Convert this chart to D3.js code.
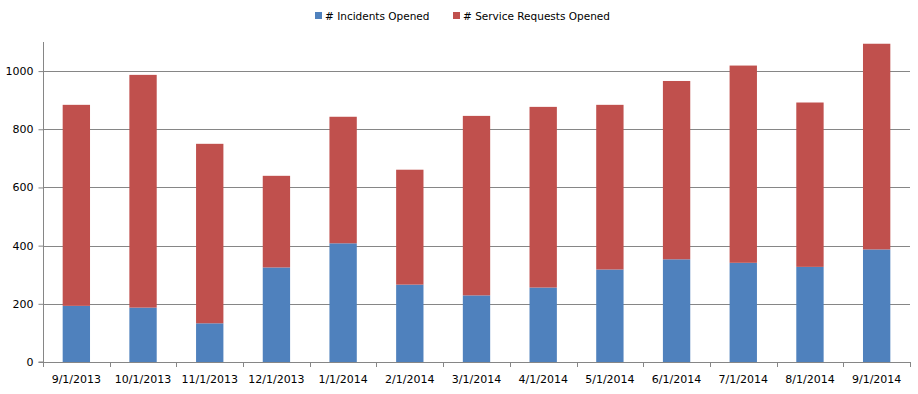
<!DOCTYPE html>
<html>
<head>
<meta charset="utf-8">
<script src="https://cdn.jsdelivr.net/npm/d3@7"></script>
<style>
  body { margin: 0; background: #fff; }
  svg text { font-family: "DejaVu Sans", sans-serif; fill: #000; }
</style>
</head>
<body>
<svg id="chart" width="918" height="394"></svg>
<script>
// mois (axe x)
var months = ["9/1/2013", "10/1/2013", "11/1/2013", "12/1/2013", "1/1/2014", "2/1/2014", "3/1/2014",
              "4/1/2014", "5/1/2014", "6/1/2014", "7/1/2014", "8/1/2014", "9/1/2014"];

// séries empilées
var incidents = [193, 187, 133, 325, 408, 266, 229, 256, 318, 353, 341, 327, 387];
var requests  = [691, 800, 617, 315, 435, 395, 617, 621, 566, 613, 678, 565, 707];

var seriesNames = ["# Incidents Opened", "# Service Requests Opened"];
var colors = ["#4F81BD", "#C0504D"];
var yTicks = [0, 200, 400, 600, 800, 1000];

var width = 918, height = 394;
var margin = {top: 42, right: 8, bottom: 32, left: 43};

var svg = d3.select("#chart");

var x = d3.scaleBand()
    .domain(months)
    .range([margin.left, width - margin.right])
    .paddingInner(0.59)
    .paddingOuter(0.295);

var xBand = d3.scaleBand()
    .domain(months)
    .range([margin.left, width - margin.right]);

var y = d3.scaleLinear()
    .domain([0, 1100])
    .range([height - margin.bottom, margin.top]);

// gridlines
svg.append("g")
    .selectAll("line")
    .data(yTicks.slice(1))
    .enter()
    .append("line")
        .attr("x1", margin.left)
        .attr("x2", width - margin.right)
        .attr("y1", function(d) { return Math.round(y(d)) + 0.5; })
        .attr("y2", function(d) { return Math.round(y(d)) + 0.5; })
        .attr("stroke", "#868686")
        .attr("stroke-width", 1);

// barres empilées
var rows = months.map(function(m, i) { return {month: m, inc: incidents[i], req: requests[i]}; });
var stack = d3.stack().keys(["inc", "req"]);
var layers = stack(rows);

svg.append("g")
    .selectAll("g")
    .data(layers)
    .enter()
    .append("g")
        .attr("fill", function(d, i) { return colors[i]; })
    .selectAll("rect")
    .data(function(d) { return d; })
    .enter()
    .append("rect")
        .attr("x", function(d) { return x(d.data.month); })
        .attr("width", x.bandwidth())
        .attr("y", function(d) { return y(d[1]); })
        .attr("height", function(d) { return y(d[0]) - y(d[1]); });

// axe y
var yAxis = svg.append("g")
    .attr("transform", "translate(" + (margin.left + 0.5) + ",0)")
    .call(d3.axisLeft(y).tickValues(yTicks).tickSize(5).tickPadding(5).tickFormat(d3.format("d")));
yAxis.select(".domain").attr("stroke", "#868686").attr("d", "M-5," + (y(0)) + "H0V" + margin.top);
yAxis.selectAll(".tick line").attr("stroke", "#868686");
yAxis.selectAll("text").style("font-size", "11px");

// axe x
var xAxis = svg.append("g")
    .attr("transform", "translate(0," + (Math.round(y(0)) + 0.5) + ")")
    .call(d3.axisBottom(xBand).tickSize(0).tickPadding(13));
xAxis.select(".domain").attr("stroke", "#868686").attr("d", "M" + margin.left + ",0H" + (width - margin.right));
xAxis.selectAll("text").style("font-size", "11px");

// petits traits entre catégories
svg.append("g")
    .selectAll("line")
    .data(months.concat(["end"]))
    .enter()
    .append("line")
        .attr("x1", function(d, i) { return Math.round(margin.left + i * xBand.bandwidth()) + 0.5; })
        .attr("x2", function(d, i) { return Math.round(margin.left + i * xBand.bandwidth()) + 0.5; })
        .attr("y1", Math.round(y(0)))
        .attr("y2", Math.round(y(0)) + 5)
        .attr("stroke", "#868686");

// légende
var legend = svg.append("g");
var legendX = [315, 453];
seriesNames.forEach(function(name, i) {
    legend.append("rect")
        .attr("x", legendX[i])
        .attr("y", 12)
        .attr("width", 7)
        .attr("height", 7)
        .attr("fill", colors[i]);
    legend.append("text")
        .attr("x", legendX[i] + 10)
        .attr("y", 20)
        .style("font-size", "10.5px")
        .text(name);
});
</script>
</body>
</html>
